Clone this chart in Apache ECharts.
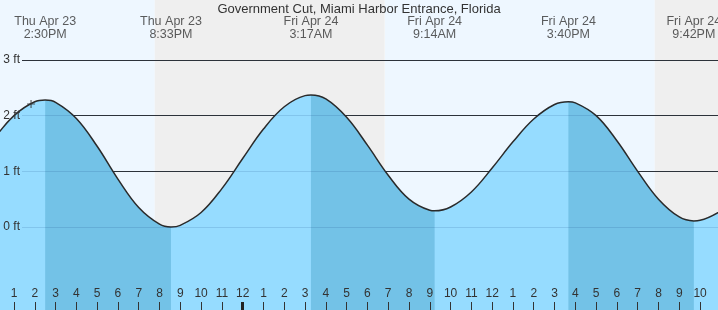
<!DOCTYPE html>
<html><head><meta charset="utf-8">
<script src="https://cdn.jsdelivr.net/npm/echarts@6/dist/echarts.min.js"></script>
<style>html,body{margin:0;padding:0;background:#fff}#c{width:718px;height:310px}</style>
</head><body><div id="c"></div>
<script>
// hours since Thu Apr 23 00:00
const hours = [12,13,14,14.5,15,16,17,18,19,20,20.55,21,22,23,24,25,26,27,27.283,28,29,30,31,32,33,33.233,34,35,36,37,38,39,39.667,40,41,42,43,44,45,45.7,46,47];
const feet  = [1.56,2.00,2.25,2.28,2.24,1.95,1.45,0.86,0.35,0.05,0.00,0.03,0.26,0.69,1.23,1.76,2.16,2.36,2.37,2.30,1.97,1.47,0.93,0.50,0.30,0.29,0.36,0.63,1.06,1.53,1.94,2.20,2.25,2.23,2.00,1.55,1.00,0.50,0.18,0.11,0.12,0.29];
const extremeTimes = [14.5,20.55,27.283,33.233,39.667,45.7];
const extremeDays  = ['Thu Apr 23','Thu Apr 23','Fri Apr 24','Fri Apr 24','Fri Apr 24','Fri Apr 24'];
const extremeClock = ['2:30PM','8:33PM','3:17AM','9:14AM','3:40PM','9:42PM'];
const extremeKind  = ['H','L','H','L','H','L'];
const daySpans   = [[12.327,19.77],[30.83,43.82]];
const nightSpans = [[19.77,30.83],[43.82,46.863]];
const hourTicks = [13,14,15,16,17,18,19,20,21,22,23,24,25,26,27,28,29,30,31,32,33,34,35,36,37,38,39,40,41,42,43,44,45,46];
const midnightTicks = [24];
const footTicks = [0,1,2,3];
const nowMark = [13.82,2.21];
const title = 'Government Cut, Miami Harbor Entrance, Florida';

const X_MIN = 12.327, X_MAX = 46.863, Y_MIN = -1.491, Y_MAX = 4.078;
const FONT = '"Liberation Sans", Arial, sans-serif';

const tide = hours.map((h,i)=>[h,feet[i]]);
// falling segments: from each high to following low
const falling = [];
for (let i=0;i<extremeTimes.length-1;i++) if (extremeKind[i]==='H') falling.push([extremeTimes[i],extremeTimes[i+1]]);
const dark = hours.map((h,i)=>{
  const inSeg = falling.some(s=>h>=s[0]-1e-9 && h<=s[1]+1e-9);
  return [h, inSeg ? feet[i] : null];
});
const areas = [];
daySpans.forEach(s=>areas.push([{xAxis:s[0],itemStyle:{color:'#eef7ff'}},{xAxis:s[1]}]));
nightSpans.forEach(s=>areas.push([{xAxis:s[0],itemStyle:{color:'#efefef'}},{xAxis:s[1]}]));

const chart = echarts.init(document.getElementById('c'), null, {renderer:'canvas'});
chart.setOption({
  animation:false,
  backgroundColor:'#fff',
  textStyle:{fontFamily:FONT},
  title:{text:title,left:'center',top:-2,textStyle:{fontSize:13,fontWeight:'normal',color:'#333',fontFamily:FONT}},
  grid:[{left:0,right:0,top:0,bottom:0},{left:22,right:0,top:0,bottom:0}],
  xAxis:[
    {type:'value',gridIndex:0,position:'bottom',min:X_MIN,max:X_MAX,z:5,
     axisLine:{show:false,onZero:false},splitLine:{show:false},
     axisTick:{show:true,inside:true,length:8,customValues:hourTicks,lineStyle:{color:'#333',width:1}},
     axisLabel:{show:true,inside:true,margin:10,customValues:hourTicks,color:'#333',fontSize:12,fontFamily:FONT,
       formatter:v=>String(v%12===0?12:v%12)}},
    {type:'value',gridIndex:1,min:0,max:1,show:false},
    {type:'value',gridIndex:0,position:'bottom',min:X_MIN,max:X_MAX,z:5,
     axisLine:{show:false,onZero:false},splitLine:{show:false},axisLabel:{show:false},
     axisTick:{show:true,inside:true,length:8,customValues:midnightTicks,lineStyle:{color:'#222',width:3}}}
  ],
  yAxis:[
    {type:'value',gridIndex:0,min:Y_MIN,max:Y_MAX,show:false},
    {type:'value',gridIndex:1,position:'left',min:Y_MIN,max:Y_MAX,z:1.5,
     axisLine:{show:false,onZero:false},axisLabel:{show:false},
     axisTick:{show:false,customValues:footTicks},
     splitLine:{show:true,lineStyle:{color:'#333',width:1}}},
    {type:'value',gridIndex:1,position:'left',min:Y_MIN,max:Y_MAX,z:5,
     axisLine:{show:false,onZero:false},
     axisTick:{show:false,customValues:footTicks},
     axisLabel:{show:true,customValues:footTicks,margin:2,color:'#333',fontSize:12,fontFamily:FONT,formatter:'{value} ft'},
     splitLine:{show:true,lineStyle:{color:'rgba(0,50,110,0.13)',width:1}}}
  ],
  series:[
    {type:'line',name:'fill',xAxisIndex:0,yAxisIndex:0,data:tide,smooth:0.4,symbol:'none',z:2,
     lineStyle:{width:0},areaStyle:{color:'#96dcff',opacity:1,origin:'start'},
     markArea:{silent:true,z:1,data:areas}},
    {type:'line',name:'falling',xAxisIndex:0,yAxisIndex:0,data:dark,smooth:0.4,symbol:'none',z:2.1,connectNulls:false,
     lineStyle:{width:0},areaStyle:{color:'#73c2e7',opacity:1,origin:'start'}},
    {type:'line',name:'curve',xAxisIndex:0,yAxisIndex:0,data:tide,smooth:0.4,symbol:'none',z:3,
     lineStyle:{color:'#2a2a2a',width:1.5}},
    {type:'scatter',name:'extremes',xAxisIndex:0,yAxisIndex:0,z:6,symbolSize:0,silent:true,
     data:extremeTimes.map((t,i)=>({value:[t,3.58],name:extremeDays[i]+'\n'+extremeClock[i]})),
     label:{show:true,position:'inside',formatter:p=>p.name,color:'#333',fontSize:12.5,lineHeight:13,align:'center',fontFamily:FONT}},
    {type:'scatter',name:'now',xAxisIndex:0,yAxisIndex:0,z:6,silent:true,
     symbol:'path://M0,3h3v-3h1v3h3v1h-3v3h-1v-3h-3z',symbolSize:8,itemStyle:{color:'#333'},
     data:[nowMark]}
  ]
});
</script></body></html>
